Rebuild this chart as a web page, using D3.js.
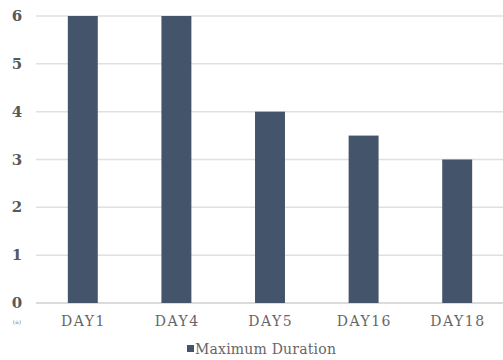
<!DOCTYPE html>
<html><head><meta charset="utf-8">
<script src="https://cdn.jsdelivr.net/npm/d3@7"></script>
<style>body{margin:0;background:#fff}svg{display:block}</style>
</head><body>
<script>
const categories = ["DAY1","DAY4","DAY5","DAY16","DAY18"];
const values = [6,6,4,3.5,3];
const yTicks = [0,1,2,3,4,5,6];
const seriesName = "Maximum Duration";

const W=503,H=360;
const svg=d3.select("body").append("svg").attr("width",W).attr("height",H);
const x=d3.scaleBand().domain(categories).range([36,504]).paddingInner(0.68).paddingOuter(0.34);
const y=d3.scaleLinear().domain([0,6]).range([303,16]);
const font="'DejaVu Serif', serif";

svg.append("g").selectAll("line").data(yTicks).join("line")
  .attr("x1",36).attr("x2",503).attr("y1",d=>y(d)).attr("y2",d=>y(d))
  .attr("stroke",d=>d===0?"#cfcfcf":"#e0e0e0").attr("stroke-width",1.5);

svg.append("g").selectAll("text").data(yTicks).join("text")
  .attr("x",17).attr("y",d=>y(d)+5).attr("text-anchor","middle")
  .attr("font-family",font).attr("font-size",15).attr("font-weight","bold").attr("fill","#595959")
  .text(d=>d);

svg.append("g").selectAll("rect").data(values).join("rect")
  .attr("x",(d,i)=>x(categories[i])).attr("width",x.bandwidth())
  .attr("y",d=>y(d)).attr("height",d=>y(0)-y(d)).attr("fill","#44546a");

svg.append("g").selectAll("text").data(categories).join("text")
  .attr("x",d=>x(d)+x.bandwidth()/2+0.75).attr("y",326).attr("text-anchor","middle")
  .attr("font-family",font).attr("font-size",14).attr("letter-spacing","1.5px").attr("fill","#666")
  .text(d=>d);

svg.append("text").attr("x",17).attr("y",324).attr("text-anchor","middle")
  .attr("font-family",font).attr("font-size",6).attr("fill","#8a8a8a").text("(a)");

const lg=svg.append("g");
lg.append("rect").attr("x",187).attr("y",345).attr("width",7).attr("height",7).attr("fill","#44546a");
lg.append("text").attr("x",195).attr("y",354).attr("font-family",font).attr("font-size",14)
  .attr("letter-spacing","0.2px").attr("fill","#666").text(seriesName);
</script>
</body></html>
